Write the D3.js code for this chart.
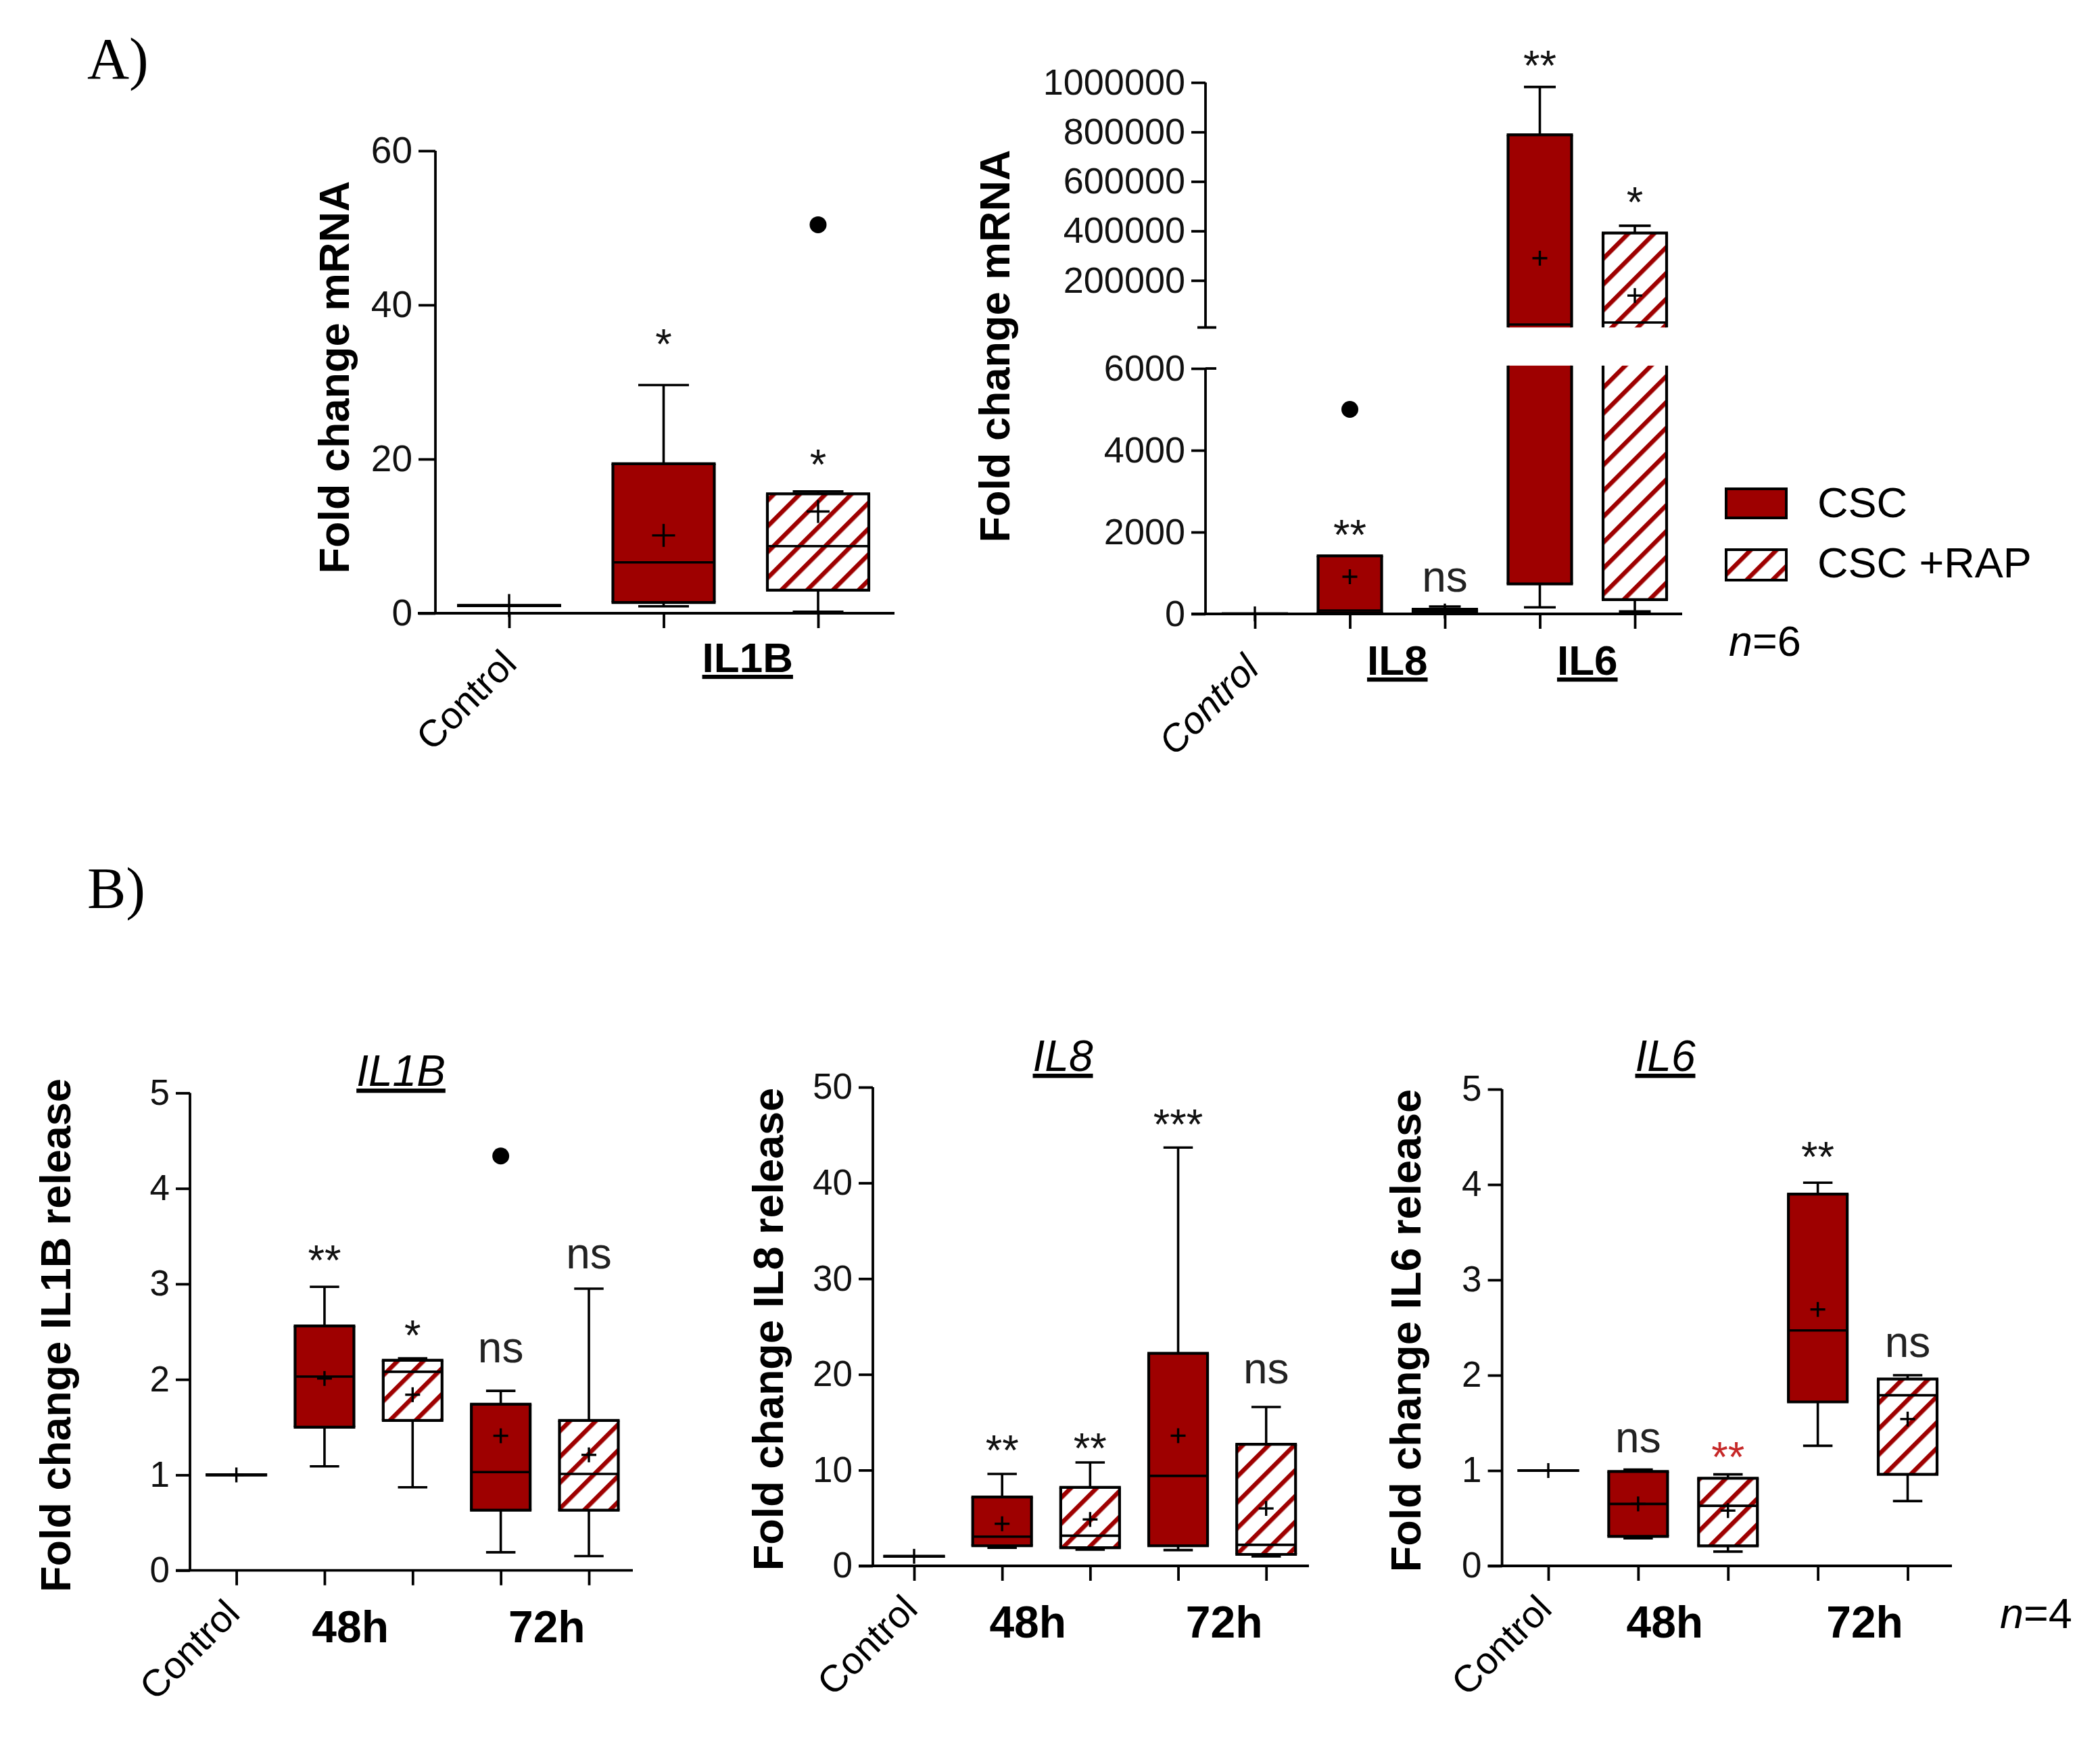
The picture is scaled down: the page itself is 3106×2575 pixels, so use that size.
<!DOCTYPE html>
<html lang="en">
<head>
<meta charset="UTF-8">
<title>Fold change mRNA and cytokine release</title>
<script src="https://d3js.org/d3.v7.min.js"></script>
<style>
  body { margin: 0; background: #fff; }
  svg { display: block; font-family: "Liberation Sans", Arial, sans-serif; }
  .axis line { stroke: #000; stroke-width: 3.8; }
  .axis text { fill: #111; font-family: "Liberation Sans", Arial, sans-serif; }
</style>
</head>
<body>
<svg width="3106" height="2575"></svg>
<script>
// ---- values ----
// every stats row is [min, q1, median, q3, max, mean]

// A) left: IL1B mRNA
const mrnaIl1bGroups = ["Control", "CSC", "CSC +RAP"];
const mrnaIl1bStats = [
  [1, 1, 1, 1, 1, 1],
  [0.9, 1.4, 6.6, 19.4, 29.6, 10.1],
  [0.2, 3.0, 8.7, 15.5, 15.8, 13.2]
];
const mrnaIl1bOutliers = [[], [], [50.4]];
const mrnaIl1bSig = ["", "*", "*"];
const mrnaIl1bSigAt = [null, 33.1, 17.5];
const mrnaIl1bTicks = [0, 20, 40, 60];

// A) right: IL8 / IL6 mRNA (broken axis)
const mrnaGroups = ["Control", "IL8 CSC", "IL8 CSC +RAP", "IL6 CSC", "IL6 CSC +RAP"];
const mrnaStats = [
  [1, 1, 1, 1, 1, 1],
  [5, 20, 83, 1421, 1421, 909],
  [5, 20, 60, 116, 182, 70],
  [160, 732, 21900, 788500, 982000, 290000],
  [60, 349, 30000, 392000, 421000, 139000]
];
const mrnaOutliers = [[], [5000], [], [], []];
const mrnaSig = ["", "**", "ns", "**", "*"];
const mrnaSigAt = [null, 1590, 545, 1011000, 459000];
const mrnaLowTicks = [0, 2000, 4000, 6000];
const mrnaHighTicks = [200000, 400000, 600000, 800000, 1000000];
const mrnaGeneLabels = ["IL8", "IL6"];

// B) release
const releaseGroups = ["Control", "48h CSC", "48h CSC +RAP", "72h CSC", "72h CSC +RAP"];
const releaseTimeLabels = ["48h", "72h"];

const il1bReleaseStats = [
  [1, 1, 1, 1, 1, 1],
  [1.09, 1.50, 2.03, 2.56, 2.97, 2.01],
  [0.87, 1.57, 2.08, 2.20, 2.22, 1.84],
  [0.19, 0.63, 1.03, 1.74, 1.88, 1.41],
  [0.15, 0.63, 1.01, 1.57, 2.95, 1.21]
];
const il1bReleaseOutliers = [[], [], [], [4.34], []];
const il1bReleaseSig = ["", "**", "*", "ns", "ns"];
const il1bReleaseSigAt = [null, 3.10, 2.31, 2.18, 3.16];

const il8ReleaseStats = [
  [1, 1, 1, 1, 1, 1],
  [1.9, 2.1, 3.05, 7.2, 9.6, 4.4],
  [1.7, 1.9, 3.15, 8.2, 10.8, 4.85],
  [1.65, 2.1, 9.4, 22.2, 43.7, 13.6],
  [1.0, 1.2, 2.2, 12.7, 16.6, 6.0]
];
const il8ReleaseOutliers = [[], [], [], [], []];
const il8ReleaseSig = ["", "**", "**", "***", "ns"];
const il8ReleaseSigAt = [null, 10.6, 10.8, 44.6, 19.1];

const il6ReleaseStats = [
  [1, 1, 1, 1, 1, 1],
  [0.29, 0.31, 0.65, 0.99, 1.01, 0.65],
  [0.15, 0.21, 0.63, 0.92, 0.96, 0.58],
  [1.26, 1.72, 2.47, 3.90, 4.02, 2.69],
  [0.68, 0.96, 1.79, 1.96, 2.00, 1.54]
];
const il6ReleaseOutliers = [[], [], [], [], []];
const il6ReleaseSig = ["", "ns", "**", "**", "ns"];
const il6ReleaseSigAt = [null, 1.19, 0.99, 4.14, 2.19];

const fiveTicks = [0, 1, 2, 3, 4, 5];
const fiftyTicks = [0, 10, 20, 30, 40, 50];

// ---- drawing ----
const RED = "#9e0000";
const svg = d3.select("svg");

const pat = svg.append("defs").append("pattern")
  .attr("id", "hatch")
  .attr("patternUnits", "userSpaceOnUse")
  .attr("width", 27).attr("height", 27)
  .attr("patternTransform", "rotate(45)");
pat.append("rect").attr("width", 27).attr("height", 27).attr("fill", "#fff");
pat.append("rect").attr("width", 6.5).attr("height", 27).attr("fill", RED);

function fillFor(name) {
  if (name === "Control") return "none";
  return name.includes("RAP") ? "url(#hatch)" : RED;
}

function line(g, x1, y1, x2, y2, w) {
  return g.append("line")
    .attr("x1", x1).attr("y1", y1).attr("x2", x2).attr("y2", y2)
    .attr("stroke", "#000").attr("stroke-width", w || 3.6);
}

// segs: [{y, lo, hi}] lets one box span a broken axis
function drawBoxes(g, x, segs, groups, stats, outliers, o) {
  groups.forEach((name, i) => {
    const [mn, q1, md, q3, mx, mean] = stats[i];
    const cx = x(name), x0 = cx - o.bw / 2, x1 = cx + o.bw / 2;
    segs.forEach(s => {
      const y = s.y;
      const inSeg = v => v >= s.lo && v <= s.hi;
      const clip = (a, b) => [Math.max(a, s.lo), Math.min(b, s.hi)];
      let [a, b] = clip(q3, mx);
      if (a < b) line(g, cx, y(a), cx, y(b));
      if (mx > q3 && inSeg(mx)) line(g, cx - o.bw / 4, y(mx), cx + o.bw / 4, y(mx));
      [a, b] = clip(mn, q1);
      if (a < b) line(g, cx, y(a), cx, y(b));
      if (mn < q1 && inSeg(mn)) line(g, cx - o.bw / 4, y(mn), cx + o.bw / 4, y(mn));

      [a, b] = clip(q1, q3);
      if (a <= b) {
        g.append("rect")
          .attr("x", x0).attr("y", y(b))
          .attr("width", o.bw).attr("height", y(a) - y(b))
          .attr("fill", fillFor(name));
        line(g, x0, y(a), x0, y(b), 4.2);
        line(g, x1, y(a), x1, y(b), 4.2);
        if (inSeg(q3)) line(g, x0 - 2, y(q3), x1 + 2, y(q3), 4.2);
        if (inSeg(q1)) line(g, x0 - 2, y(q1), x1 + 2, y(q1), 4.2);
      }
      if (inSeg(md)) line(g, x0, y(md), x1, y(md), 3.6);
      if (inSeg(mean)) {
        line(g, cx - o.plus, y(mean), cx + o.plus, y(mean), 3.4);
        line(g, cx, y(mean) - o.plus, cx, y(mean) + o.plus, 3.4);
      }
      outliers[i].filter(inSeg).forEach(v => {
        g.append("circle").attr("cx", cx).attr("cy", y(v)).attr("r", 12.5).attr("fill", "#000");
      });
    });
  });
}

function yAxis(g, y, ax0, ticks, fs, tick) {
  const a = g.append("g").attr("class", "axis")
    .attr("transform", `translate(${ax0},0)`)
    .call(d3.axisLeft(y).tickValues(ticks).tickSize(tick).tickSizeOuter(0)
      .tickPadding(9).tickFormat(d3.format("d")));
  a.select(".domain").remove();
  a.selectAll("text").attr("font-size", fs);
  return a;
}

function xAxis(g, x, yPos, xs, xe) {
  line(g, xs, yPos, xe, yPos, 3.8);
  const a = g.append("g").attr("class", "axis")
    .attr("transform", `translate(0,${yPos})`)
    .call(d3.axisBottom(x).tickSize(22).tickSizeOuter(0).tickFormat(""));
  a.select(".domain").remove();
}

function text(g, x, y, s, fs, opt) {
  opt = opt || {};
  const t = g.append("text")
    .attr("x", x).attr("y", y)
    .attr("font-size", fs)
    .attr("text-anchor", opt.anchor || "middle")
    .attr("fill", opt.fill || "#000")
    .text(s);
  if (opt.bold) t.attr("font-weight", "bold");
  if (opt.italic) t.attr("font-style", "italic");
  if (opt.underline) t.style("text-decoration", "underline");
  if (opt.rotate) t.attr("transform", `rotate(${opt.rotate},${x},${y})`);
  if (opt.family) t.attr("font-family", opt.family);
  return t;
}

function sigLabels(g, x, yFor, groups, sig, sigAt, colors) {
  groups.forEach((name, i) => {
    if (!sig[i]) return;
    const isNs = sig[i] === "ns";
    text(g, x(name), yFor(sigAt[i]), sig[i], isNs ? 64 : 63,
      { fill: (colors && colors[i]) || (isNs ? "#222" : "#111") });
  });
}

function yLabel(g, cx, cy, s) {
  g.append("text")
    .attr("transform", `translate(${cx},${cy}) rotate(-90)`)
    .attr("text-anchor", "middle")
    .attr("dominant-baseline", "central")
    .attr("font-size", 63).attr("font-weight", "bold")
    .text(s);
}

const g = svg.append("g");

// panel letters
text(g, 129, 116, "A)", 86, { anchor: "start", family: "'Liberation Serif', 'Times New Roman', serif" });
text(g, 129, 1343, "B)", 86, { anchor: "start", family: "'Liberation Serif', 'Times New Roman', serif" });

// ---- A left ----
{
  const x = d3.scalePoint().domain(mrnaIl1bGroups).range([753, 1210]);
  const y = d3.scaleLinear().domain([0, 60]).range([907, 223]);
  const ax0 = 644;
  yAxis(g, y, ax0, mrnaIl1bTicks, 55, 25);
  line(g, ax0, y(0), ax0, y(60), 3.8);
  xAxis(g, x, y(0), ax0 - 26, 1323);
  drawBoxes(g, x, [{ y, lo: -Infinity, hi: Infinity }], mrnaIl1bGroups, mrnaIl1bStats, mrnaIl1bOutliers,
    { bw: 150, plus: 17 });
  sigLabels(g, x, y, mrnaIl1bGroups, mrnaIl1bSig, mrnaIl1bSigAt);
  yLabel(g, 494, 558, "Fold change mRNA");
  text(g, x("Control") + 14, y(0) + 78, "Control", 56, { anchor: "end", rotate: -45 });
  text(g, (x(mrnaIl1bGroups[1]) + x(mrnaIl1bGroups[2])) / 2 + 10, 994, "IL1B", 62, { bold: true, underline: true });
}

// ---- A right (broken axis) ----
{
  const x = d3.scalePoint().domain(mrnaGroups).range([1856, 2418]);
  const yLo = d3.scaleLinear().domain([0, 6000]).range([908, 545]);
  const yUp = d3.scaleLinear().domain([0, 1000000]).range([488, 122]);
  const loTop = 6070, upBottom = 10000;
  const ax0 = 1783;
  yAxis(g, yLo, ax0, mrnaLowTicks, 54, 21);
  yAxis(g, yUp, ax0, mrnaHighTicks, 54, 21);
  line(g, ax0, yLo(0), ax0, yLo(6000), 3.8);
  line(g, ax0, yUp(upBottom), ax0, yUp(1000000), 3.8);
  line(g, ax0 - 12, yUp(upBottom), ax0 + 16, yUp(upBottom), 3.8);
  line(g, ax0, yLo(6000), ax0 + 16, yLo(6000), 3.8);
  xAxis(g, x, yLo(0), ax0 - 21, 2488);
  const segs = [
    { y: yLo, lo: -Infinity, hi: loTop },
    { y: yUp, lo: upBottom, hi: Infinity }
  ];
  drawBoxes(g, x, segs, mrnaGroups, mrnaStats, mrnaOutliers, { bw: 94, plus: 11 });
  sigLabels(g, x, v => (v > loTop ? yUp(v) : yLo(v)), mrnaGroups, mrnaSig, mrnaSigAt);
  yLabel(g, 1471, 512, "Fold change mRNA");
  text(g, x("Control") + 9, yLo(0) + 84, "Control", 56, { anchor: "end", rotate: -45, italic: true });
  mrnaGeneLabels.forEach((s, k) => {
    const cx = (x(mrnaGroups[1 + 2 * k]) + x(mrnaGroups[2 + 2 * k])) / 2;
    text(g, cx, 998, s, 62, { bold: true, underline: true });
  });

  // legend
  g.append("rect").attr("x", 2553).attr("y", 723).attr("width", 89).attr("height", 43)
    .attr("fill", RED).attr("stroke", "#000").attr("stroke-width", 4);
  g.append("rect").attr("x", 2553).attr("y", 813).attr("width", 89).attr("height", 45)
    .attr("fill", "url(#hatch)").attr("stroke", "#000").attr("stroke-width", 4);
  text(g, 2688, 765, "CSC", 63, { anchor: "start" });
  text(g, 2688, 854, "CSC +RAP", 63, { anchor: "start" });
  const n6 = text(g, 2557, 970, "", 63, { anchor: "start" });
  n6.append("tspan").attr("font-style", "italic").text("n");
  n6.append("tspan").text("=6");
}

// ---- B panels ----
function releasePanel(cfg) {
  const x = d3.scalePoint().domain(releaseGroups).range(cfg.xr);
  const y = d3.scaleLinear().domain([0, cfg.max]).range(cfg.yr);
  yAxis(g, y, cfg.ax0, cfg.ticks, 53, 21);
  line(g, cfg.ax0, y(0), cfg.ax0, y(cfg.max), 3.8);
  xAxis(g, x, y(0), cfg.ax0 - 21, cfg.xEnd);
  drawBoxes(g, x, [{ y, lo: -Infinity, hi: Infinity }], releaseGroups, cfg.stats, cfg.outliers,
    { bw: 87, plus: 11 });
  sigLabels(g, x, y, releaseGroups, cfg.sig, cfg.sigAt, cfg.sigColors);
  yLabel(g, cfg.labelX, cfg.labelY, cfg.label);
  text(g, cfg.titleX, cfg.titleY, cfg.title, 64, { italic: true, underline: true });
  text(g, x("Control") + 8, y(0) + 67, "Control", 56, { anchor: "end", rotate: -45 });
  const shift = [-27, 3];
  releaseTimeLabels.forEach((s, k) => {
    const cx = (x(releaseGroups[1 + 2 * k]) + x(releaseGroups[2 + 2 * k])) / 2 + shift[k];
    text(g, cx, y(0) + 106, s, 66, { bold: true });
  });
}

releasePanel({
  xr: [349.6, 871], yr: [2322.7, 1616.5], max: 5, ticks: fiveTicks, ax0: 281, xEnd: 936,
  stats: il1bReleaseStats, outliers: il1bReleaseOutliers, sig: il1bReleaseSig, sigAt: il1bReleaseSigAt,
  label: "Fold change IL1B release", labelX: 82, labelY: 1975,
  title: "IL1B", titleX: 593, titleY: 1606
});
releasePanel({
  xr: [1352, 1872.7], yr: [2316, 1608], max: 50, ticks: fiftyTicks, ax0: 1291, xEnd: 1936,
  stats: il8ReleaseStats, outliers: il8ReleaseOutliers, sig: il8ReleaseSig, sigAt: il8ReleaseSigAt,
  label: "Fold change IL8 release", labelX: 1136, labelY: 1966,
  title: "IL8", titleX: 1572, titleY: 1584
});
releasePanel({
  xr: [2290, 2821.5], yr: [2316, 1611], max: 5, ticks: fiveTicks, ax0: 2221.6, xEnd: 2887,
  stats: il6ReleaseStats, outliers: il6ReleaseOutliers, sig: il6ReleaseSig, sigAt: il6ReleaseSigAt,
  sigColors: [null, null, "#c62828", null, null],
  label: "Fold change IL6 release", labelX: 2079, labelY: 1968,
  title: "IL6", titleX: 2463, titleY: 1584
});

const n4 = text(g, 2958, 2408, "", 63, { anchor: "start" });
n4.append("tspan").attr("font-style", "italic").text("n");
n4.append("tspan").text("=4");
</script>
</body>
</html>
